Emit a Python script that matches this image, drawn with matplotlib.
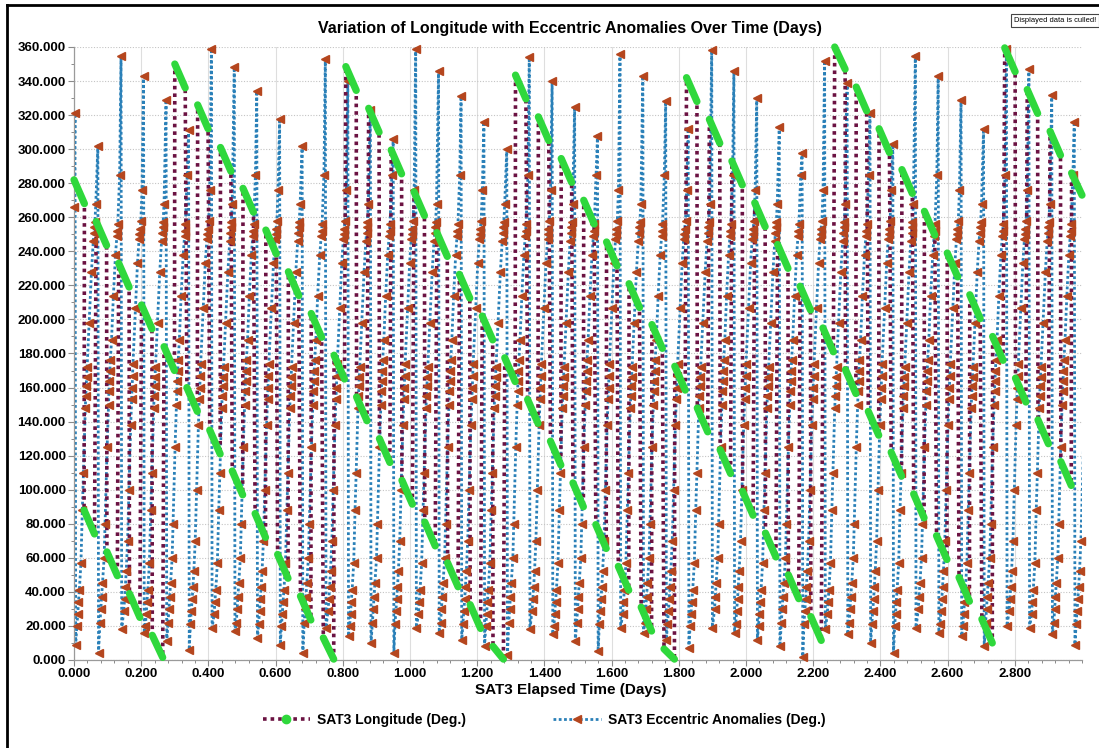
import matplotlib.pyplot as plt
from matplotlib.lines import Line2D
from matplotlib.collections import LineCollection
from matplotlib.ticker import MultipleLocator, FormatStrFormatter

plt.rcParams['font.family'] = ['Liberation Sans', 'DejaVu Sans']
plt.rcParams['font.weight'] = 'bold'

# ---- SAT3 eccentric anomaly (deg): one sawtooth per orbit ----
# time of each wrap (days), value just before wrap, value just after wrap
tooth_t = [0.003, 0.071, 0.140, 0.207, 0.274, 0.341, 0.409, 0.477, 0.544, 0.612,
           0.679, 0.748, 0.815, 0.882, 0.950, 1.017, 1.085, 1.152, 1.220, 1.288,
           1.355, 1.423, 1.490, 1.558, 1.625, 1.693, 1.761, 1.828, 1.898, 1.964,
           2.032, 2.099, 2.167, 2.234, 2.301, 2.369, 2.437, 2.504, 2.572, 2.640,
           2.707, 2.775, 2.842, 2.910, 2.977, 3.045]
ecc_peak = [321, 302, 355, 343, 329, 311, 359, 348, 334, 318,
            302, 353, 340, 323, 306, 359, 346, 331, 316, 300,
            354, 340, 325, 308, 356, 343, 328, 312, 358, 346,
            330, 313, 298, 352, 339, 321, 303, 355, 343, 329,
            312, 359, 347, 332, 316, 300]
ecc_low = [9, 4, 18, 16, 11, 6, 19, 17, 13, 9,
           4, 19, 14, 10, 4, 19, 16, 12, 8, 3,
           18, 15, 11, 5, 19, 16, 12, 7, 19, 16,
           12, 8, 2, 18, 15, 10, 4, 19, 16, 14,
           8, 20, 19, 15, 9]
ecc_start = (0.0, 266)

# sampled levels on the rise of each orbit and where in the orbit they sit (0..1)
levels_a = [20, 27, 34, 41, 57, 88, 110, 148, 155, 161, 166, 172, 198, 228, 246, 251, 254, 257, 268]
phase_a = [0.08, 0.12, 0.15, 0.19, 0.26, 0.32, 0.37, 0.45, 0.47, 0.49, 0.51, 0.53, 0.62, 0.72, 0.80, 0.83, 0.85, 0.87, 0.91]
levels_b = [22, 30, 37, 45, 60, 80, 125, 150, 158, 164, 170, 176, 188, 214, 238, 249, 252, 256, 285]
phase_b = [0.09, 0.13, 0.16, 0.20, 0.27, 0.31, 0.40, 0.46, 0.48, 0.50, 0.52, 0.54, 0.59, 0.67, 0.76, 0.82, 0.84, 0.86, 0.94]
levels_c = [21, 29, 36, 43, 52, 70, 100, 138, 153, 160, 167, 174, 207, 233, 247, 250, 253, 258, 276]
phase_c = [0.08, 0.12, 0.16, 0.19, 0.23, 0.29, 0.35, 0.43, 0.47, 0.49, 0.51, 0.53, 0.64, 0.73, 0.80, 0.82, 0.84, 0.88, 0.93]

# ---- SAT3 longitude (deg): dense sample bursts, two per orbit ----
seg_len = 0.031
lon_a_t = [0.000, 0.066, 0.133, 0.201, 0.268, 0.336, 0.404, 0.471, 0.539, 0.606,
           0.674, 0.742, 0.809, 0.877, 0.944, 1.012, 1.080, 1.147, 1.215, 1.282,
           1.350, 1.418, 1.485, 1.553, 1.620, 1.688, 1.756, 1.823, 1.891, 1.958,
           2.026, 2.094, 2.161, 2.229, 2.296, 2.364, 2.432, 2.499, 2.567, 2.634,
           2.702, 2.770, 2.837, 2.905, 2.969]
lon_a_v0 = [282, 257.5, 233, 208.5, 184, 160, 135, 111, 86, 62,
            37.5, 13, 348.5, 324, 299.5, 275, 251, 226.5, 202, 177.5,
            153, 128.5, 104, 79.5, 55, 31, 6.5, 342, 317.5, 293,
            268.5, 244, 219.5, 195, 170.5, 146, 122, 97.5, 73, 48.5,
            24, 359.5, 335, 310.5, 286]
lon_a_v1 = [268, 243.5, 219, 194.5, 170, 146, 121, 97, 72, 48,
            23.5, 0.5, 334.5, 310, 285.5, 261, 237, 212.5, 188, 163.5,
            139, 114.5, 90, 65.5, 41, 17, 0.5, 328, 303.5, 279,
            254.5, 230, 205.5, 181, 156.5, 132, 108, 83.5, 59, 34.5,
            10, 345.5, 321, 296.5, 273]
lon_b_t = [0.030, 0.098, 0.165, 0.233, 0.300, 0.368, 0.436, 0.503, 0.571, 0.638,
           0.706, 0.774, 0.841, 0.909, 0.976, 1.044, 1.112, 1.179, 1.247, 1.314,
           1.382, 1.450, 1.517, 1.585, 1.652, 1.720, 1.788, 1.855, 1.923, 1.990,
           2.058, 2.126, 2.193, 2.264, 2.328, 2.396, 2.464, 2.531, 2.599, 2.666,
           2.734, 2.802, 2.869, 2.937]
lon_b_v0 = [88, 63.5, 39, 14.5, 350, 326, 301, 277, 252.5, 228,
            203.5, 179, 154.5, 130, 105.5, 81, 57, 32.5, 8, 343.5,
            319, 294.5, 270, 245.5, 221, 197, 172.5, 148, 123.5, 99,
            74.5, 50, 25.5, 360, 336.5, 312, 288, 263.5, 239, 214.5,
            190, 165.5, 141, 116.5]
lon_b_v1 = [74, 49.5, 25, 1.5, 336, 312, 287, 263, 238.5, 214,
            189.5, 165, 140.5, 116, 91.5, 67, 43, 18.5, 0.5, 329.5,
            305, 280.5, 256, 231.5, 207, 183, 158.5, 134, 109.5, 85,
            60.5, 36, 11.5, 347, 322.5, 298, 274, 249.5, 225, 200.5,
            176, 151.5, 127, 102.5]

x_ticks = [0.0, 0.2, 0.4, 0.6, 0.8, 1.0, 1.2, 1.4, 1.6, 1.8, 2.0, 2.2, 2.4, 2.6, 2.8]
y_ticks = list(range(0, 361, 20))

MAROON = '#6b1242'
GREEN = '#2fd83c'
BLUE = '#2a80b8'
BROWN = '#b5461e'

# build the eccentric anomaly polyline
level_sets = [(levels_a, phase_a), (levels_b, phase_b), (levels_c, phase_c)]
ecc_t = [ecc_start[0]]
ecc_v = [ecc_start[1]]
for i in range(len(ecc_low)):
    t0, t1 = tooth_t[i], tooth_t[i + 1]
    ecc_t.append(t0)
    ecc_v.append(ecc_peak[i])
    ecc_t.append(t0 + 0.002)
    ecc_v.append(ecc_low[i])
    lv, ph = level_sets[i % 3]
    for lev, p in zip(lv, ph):
        if lev > ecc_low[i] + 3:
            ecc_t.append(t0 + p * (t1 - t0))
            ecc_v.append(lev)
ecc_t.append(tooth_t[-1])
ecc_v.append(ecc_peak[-1])

# build the longitude polyline and the green bursts
segs = [(lon_a_t[k], lon_a_v0[k], lon_a_t[k] + seg_len, lon_a_v1[k]) for k in range(len(lon_a_t))]
segs += [(lon_b_t[k], lon_b_v0[k], lon_b_t[k] + seg_len, lon_b_v1[k]) for k in range(len(lon_b_t))]
segs.sort()
lon_t, lon_v = [], []
for a, b, c, d in segs:
    lon_t += [a, c]
    lon_v += [b, d]

fig = plt.figure(figsize=(10.99, 7.48), dpi=100)
ax = fig.add_axes([74 / 1099, 1 - 660 / 748, (1082 - 74) / 1099, (660 - 47) / 748])

ax.plot(ecc_t, ecc_v, color=BLUE, lw=2.0, ls=(0, (1, 0.9)), zorder=2)
ax.plot(lon_t, lon_v, color=MAROON, lw=2.6, ls=(0, (1, 1.1)), zorder=3)
tri = [(t, v) for t, v in zip(ecc_t, ecc_v) if t <= 3.0]
ax.plot([p[0] for p in tri], [p[1] for p in tri], ls='none', marker='<', ms=5.5,
        color=BROWN, zorder=4, clip_on=False)
green = LineCollection([[(a, b), (c, d)] for a, b, c, d in segs], colors=GREEN,
                       linewidths=5.2, capstyle='round', zorder=5, clip_on=False)
ax.add_collection(green)

ax.set_xlim(0, 3.0)
ax.set_ylim(0, 360)
ax.set_xticks(x_ticks)
ax.set_yticks(y_ticks)
ax.xaxis.set_minor_locator(MultipleLocator(0.04))
ax.yaxis.set_minor_locator(MultipleLocator(10))
ax.xaxis.set_major_formatter(FormatStrFormatter('%.3f'))
ax.yaxis.set_major_formatter(FormatStrFormatter('%.3f'))
ax.tick_params(which='major', length=4, width=0.8, color='#8a8a8a', labelsize=9.5, labelcolor='black', pad=2)
ax.tick_params(which='minor', length=2.5, width=0.7, color='#8a8a8a')

ax.grid(axis='y', which='major', color='#c4c4c4', ls=(0, (1, 1.5)), lw=0.8)
ax.grid(axis='x', which='major', color='#dedede', ls='-', lw=0.8)
ax.set_axisbelow(True)
for s in ['top', 'right']:
    ax.spines[s].set_visible(False)
for s in ['left', 'bottom']:
    ax.spines[s].set_color('#9a9a9a')
    ax.spines[s].set_linewidth(0.9)

fig.text(0.519, 1 - 28 / 748, 'Variation of Longitude with Eccentric Anomalies Over Time (Days)',
         ha='center', va='center', fontsize=11.5, fontweight='bold')
fig.text(571 / 1099, 1 - 690 / 748, 'SAT3 Elapsed Time (Days)',
         ha='center', va='center', fontsize=11, fontweight='bold')

handles = [
    Line2D([], [], color=MAROON, lw=2.6, ls=(0, (1, 1.1)), marker='o', ms=6,
           mfc=GREEN, mec=GREEN),
    Line2D([], [], color=BLUE, lw=2.0, ls=(0, (1, 0.9)), marker='<', ms=6,
           mfc=BROWN, mec=BROWN),
]
fig.legend(handles, ['SAT3 Longitude (Deg.)', 'SAT3 Eccentric Anomalies (Deg.)'],
           loc='center', bbox_to_anchor=(544 / 1099, 1 - 720 / 748), ncol=2,
           frameon=False, fontsize=10, handlelength=3.4, handletextpad=0.5,
           columnspacing=6.3, numpoints=1)

fig.text(1096 / 1099, 1 - 20 / 748, 'Displayed data is culled!', fontsize=5.4,
         fontweight='normal', ha='right', va='center',
         bbox=dict(boxstyle='square,pad=0.4', fc='white', ec='#444444', lw=0.8))

# window frame
fig.add_artist(Line2D([6.5 / 1099, 6.5 / 1099], [0, 1 - 5 / 748], transform=fig.transFigure,
                      color='black', lw=2))
fig.add_artist(Line2D([6.5 / 1099, 1], [1 - 5 / 748, 1 - 5 / 748], transform=fig.transFigure,
                      color='black', lw=2))

fig.savefig('out.png', dpi=100)
